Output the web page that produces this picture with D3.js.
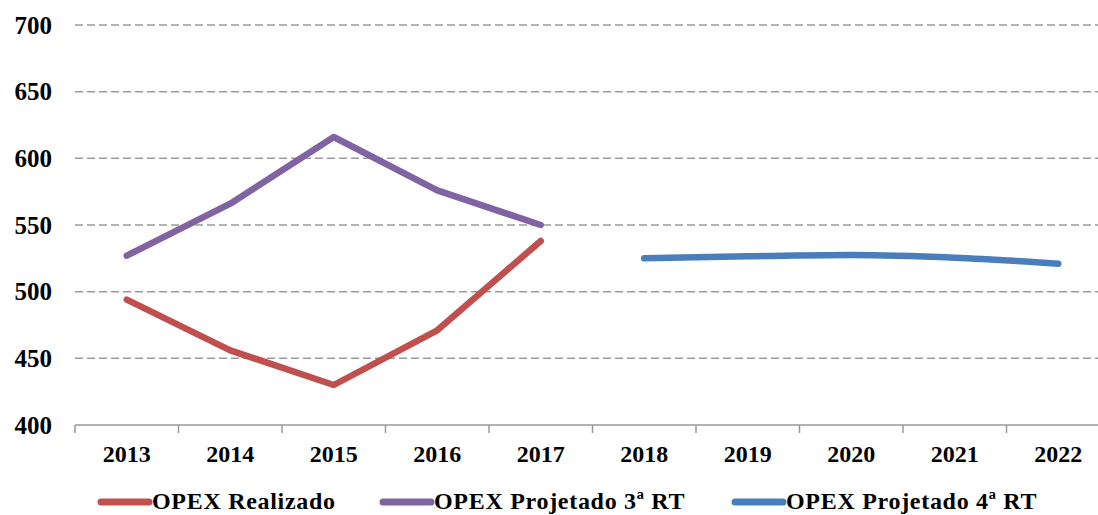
<!DOCTYPE html>
<html>
<head>
<meta charset="utf-8">
<script src="https://cdn.jsdelivr.net/npm/d3@7"></script>
<style>
  body { margin: 0; background: #fff; }
  svg { display: block; font-family: "Liberation Serif", "Times New Roman", serif; font-weight: bold; }
</style>
</head>
<body>
<div id="chart"></div>
<script>
const years = ["2013","2014","2015","2016","2017","2018","2019","2020","2021","2022"];
const yTicks = [400, 450, 500, 550, 600, 650, 700];

const realizado = [
  {year: "2013", v: 494}, {year: "2014", v: 456}, {year: "2015", v: 430},
  {year: "2016", v: 471}, {year: "2017", v: 538}
];
const projetado3 = [
  {year: "2013", v: 527}, {year: "2014", v: 566}, {year: "2015", v: 616},
  {year: "2016", v: 576}, {year: "2017", v: 550}
];
const projetado4 = [
  {year: "2018", v: 525}, {year: "2019", v: 526.5}, {year: "2020", v: 527.5},
  {year: "2021", v: 525.5}, {year: "2022", v: 521}
];

const series = [
  {name: "OPEX Realizado", data: realizado, color: "#C0504D", curve: d3.curveLinear},
  {name: "OPEX Projetado 3ª RT", data: projetado3, color: "#8064A2", curve: d3.curveLinear},
  {name: "OPEX Projetado 4ª RT", data: projetado4, color: "#4A7EBB", curve: d3.curveMonotoneX}
];

const W = 1098, H = 515;
const mLeft = 75, mRight = 1110, mTop = 25, mBottom = 425;

const svg = d3.select("#chart").append("svg")
  .attr("width", W)
  .attr("height", H);

const x = d3.scaleBand().domain(years).range([mLeft, mRight]);
const y = d3.scaleLinear().domain([400, 700]).range([mBottom, mTop]);

// dashed gridlines
svg.append("g")
  .selectAll("line")
  .data(yTicks.filter(t => t > 400))
  .enter()
  .append("line")
  .attr("x1", mLeft)
  .attr("x2", mRight)
  .attr("y1", d => y(d))
  .attr("y2", d => y(d))
  .attr("stroke", "#9a9a9a")
  .attr("stroke-width", 1.5)
  .attr("stroke-dasharray", "8,4");

// y labels
const yAxis = svg.append("g")
  .attr("transform", "translate(" + mLeft + ",0)")
  .call(d3.axisLeft(y).tickValues(yTicks).tickSize(0).tickPadding(23));
yAxis.select(".domain").remove();
yAxis.selectAll("text")
  .attr("font-size", 25)
  .attr("font-family", "Liberation Serif")
  .attr("font-weight", "bold")
  .attr("fill", "#000");

// x axis line + ticks between categories
const xAxisG = svg.append("g").attr("transform", "translate(0," + mBottom + ")");
xAxisG.append("line")
  .attr("x1", mLeft).attr("x2", mRight)
  .attr("stroke", "#999").attr("stroke-width", 1.5);
xAxisG.selectAll(".tk")
  .data(years)
  .enter()
  .append("line")
  .attr("class", "tk")
  .attr("x1", d => x(d)).attr("x2", d => x(d))
  .attr("y1", 0).attr("y2", 8)
  .attr("stroke", "#999").attr("stroke-width", 1.5);
xAxisG.selectAll(".lbl")
  .data(years)
  .enter()
  .append("text")
  .attr("class", "lbl")
  .attr("x", d => x(d) + x.bandwidth() / 2)
  .attr("y", 37)
  .attr("text-anchor", "middle")
  .attr("font-size", 24)
  .attr("fill", "#000")
  .text(d => d);

// lines
series.forEach(s => {
  const line = d3.line()
    .x(d => x(d.year) + x.bandwidth() / 2)
    .y(d => y(d.v))
    .curve(s.curve);
  svg.append("path")
    .datum(s.data)
    .attr("d", line)
    .attr("fill", "none")
    .attr("stroke", s.color)
    .attr("stroke-width", 6.5)
    .attr("stroke-linejoin", "round")
    .attr("stroke-linecap", "round");
});

// legend
const legendX = [101, 383, 735];
const legend = svg.append("g");
series.forEach((s, i) => {
  const g = legend.append("g").attr("transform", "translate(" + legendX[i] + ",502)");
  g.append("line")
    .attr("x1", 0).attr("x2", 48)
    .attr("stroke", s.color)
    .attr("stroke-width", 7)
    .attr("stroke-linecap", "round");
  g.append("text")
    .attr("x", 51)
    .attr("y", 7)
    .attr("font-size", 24)
    .attr("letter-spacing", "0.7px")
    .attr("fill", "#000")
    .text(s.name);
});
</script>
</body>
</html>
